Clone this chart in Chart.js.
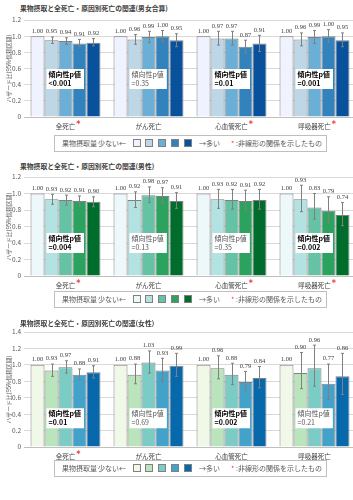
<!DOCTYPE html>
<html lang="ja">
<head>
<meta charset="utf-8">
<script src="https://cdn.jsdelivr.net/npm/chart.js@4.4.1/dist/chart.umd.min.js"></script>
<style>
  body { margin: 0; width: 353px; height: 500px; overflow: hidden; background: #fff; position: relative;
         font-family: 'Noto Sans CJK JP', sans-serif; }
  .ttl { position: absolute; left: 20px; font-size: 6.8px; line-height: 10px; font-weight: bold; color: #404040; white-space: nowrap; }
  .cv { position: absolute; left: 0; }
  .lg { position: absolute; left: 54px; width: 273px; height: 17px; border: 1px solid #bfbfbf; box-sizing: border-box;
        font-size: 7px; color: #595959; white-space: nowrap; }
  .lg span { position: absolute; top: 0; line-height: 15px; }
  .lg i { position: absolute; top: 3px; width: 8px; height: 8px; border: 1px solid #808080; box-sizing: border-box; }
</style>
</head>
<body>
<script>
Chart.defaults.font.family = "'Noto Sans CJK JP', sans-serif";

const categories = ['全死亡', 'がん死亡', '心血管死亡', '呼吸器死亡'];
const trendLabel = '傾向性p値';
const yTitle = 'ハザード比(95%信頼区間)';
const legendTexts = ['果物摂取量', '少ない←', '→多い', ':非線形の関係を示したもの'];

// 男女合算  (rows = categories, columns = intake quintiles)
const bothHR = [
  [1.00, 0.95, 0.94, 0.91, 0.92],
  [1.00, 0.96, 0.99, 1.00, 0.95],
  [1.00, 0.97, 0.97, 0.87, 0.91],
  [1.00, 0.96, 0.99, 1.00, 0.95]
];
const bothLo = [
  [null, 0.91, 0.90, 0.87, 0.88],
  [null, 0.90, 0.92, 0.93, 0.87],
  [null, 0.89, 0.89, 0.79, 0.81],
  [null, 0.88, 0.91, 0.92, 0.87]
];
const bothHi = [
  [null, 0.99, 0.98, 0.96, 0.97],
  [null, 1.02, 1.06, 1.07, 1.03],
  [null, 1.06, 1.06, 0.95, 1.01],
  [null, 1.04, 1.07, 1.08, 1.04]
];
const bothP = ['<0.001', '=0.35', '=0.01', '=0.001'];
const bothSig = [true, false, true, true];
const bothStar = [true, false, true, true];
const bothColors = ['#eff3ff', '#bdd7e7', '#6baed6', '#3182bd', '#08519c'];

// 男性
const menHR = [
  [1.00, 0.93, 0.92, 0.91, 0.90],
  [1.00, 0.92, 0.98, 0.97, 0.91],
  [1.00, 0.93, 0.92, 0.91, 0.92],
  [1.00, 0.93, 0.83, 0.79, 0.74]
];
const menLo = [
  [null, 0.87, 0.86, 0.85, 0.84],
  [null, 0.83, 0.89, 0.88, 0.82],
  [null, 0.82, 0.81, 0.80, 0.81],
  [null, 0.78, 0.69, 0.65, 0.61]
];
const menHi = [
  [null, 0.99, 0.98, 0.97, 0.96],
  [null, 1.02, 1.08, 1.07, 1.01],
  [null, 1.05, 1.05, 1.04, 1.05],
  [null, 1.10, 1.00, 0.96, 0.89]
];
const menP = ['=0.004', '=0.13', '=0.35', '=0.002'];
const menSig = [true, false, false, true];
const menStar = [true, false, true, true];
const menColors = ['#edf8fb', '#b2e2e2', '#66c2a4', '#2ca25f', '#006d2c'];

// 女性
const womenHR = [
  [1.00, 0.93, 0.97, 0.88, 0.91],
  [1.00, 0.88, 1.03, 0.93, 0.99],
  [1.00, 0.96, 0.88, 0.79, 0.84],
  [1.00, 0.90, 0.96, 0.77, 0.86]
];
const womenLo = [
  [null, 0.86, 0.90, 0.82, 0.84],
  [null, 0.77, 0.90, 0.80, 0.86],
  [null, 0.83, 0.76, 0.68, 0.72],
  [null, 0.71, 0.74, 0.58, 0.64]
];
const womenHi = [
  [null, 1.01, 1.05, 0.95, 0.99],
  [null, 1.01, 1.17, 1.08, 1.14],
  [null, 1.11, 1.02, 0.92, 0.98],
  [null, 1.15, 1.24, 1.01, 1.14]
];
const womenP = ['=0.01', '=0.69', '=0.002', '=0.21'];
const womenSig = [true, false, true, false];
const womenStar = [true, false, false, false];
const womenColors = ['#f0f9e8', '#bae4bc', '#7bccc4', '#43a2ca', '#0868ac'];

const panels = [
  { title: '果物摂取と全死亡・原因別死亡の関連(男女合算)', hr: bothHR, lo: bothLo, hi: bothHi, p: bothP, sig: bothSig,
    star: bothStar, colors: bothColors, yMax: 1.2, top: 12, h: 123, titleY: 3, legendY: 135, boxAt: 0.47 },
  { title: '果物摂取と全死亡・原因別死亡の関連(男性)', hr: menHR, lo: menLo, hi: menHi, p: menP, sig: menSig,
    star: menStar, colors: menColors, yMax: 1.2, top: 169, h: 125, titleY: 161, legendY: 291, boxAt: 0.40 },
  { title: '果物摂取と全死亡・原因別死亡の関連(女性)', hr: womenHR, lo: womenLo, hi: womenHi, p: womenP, sig: womenSig,
    star: womenStar, colors: womenColors, yMax: 1.4, top: 324, h: 141, titleY: 318, legendY: 460, boxAt: 0.35 }
];

function makeExtras(cfg) {
  return {
    id: 'extras',
    afterDraw(chart) {
      const ctx = chart.ctx, xs = chart.scales.x, ys = chart.scales.y;
      ctx.save();
      // error bars + value labels
      chart.data.datasets.forEach((ds, q) => {
        chart.getDatasetMeta(q).data.forEach((bar, c) => {
          let top = bar.y;
          const l = cfg.lo[c][q], h = cfg.hi[c][q];
          if (l !== null) {
            const yl = ys.getPixelForValue(l), yh = ys.getPixelForValue(h);
            const x = Math.round(bar.x) + 0.5;
            ctx.strokeStyle = '#808080';
            ctx.lineWidth = 1;
            ctx.beginPath();
            ctx.moveTo(x, yl); ctx.lineTo(x, yh);
            ctx.moveTo(x - 1.5, yl); ctx.lineTo(x + 1.5, yl);
            ctx.moveTo(x - 1.5, yh); ctx.lineTo(x + 1.5, yh);
            ctx.stroke();
            top = Math.min(top, yh);
          }
          ctx.fillStyle = '#404040';
          ctx.font = "6.5px 'Liberation Serif', serif";
          ctx.textAlign = 'center';
          ctx.textBaseline = 'bottom';
          ctx.fillText(ds.data[c].toFixed(2), bar.x, top - 2);
        });
      });
      // trend p boxes, category labels, asterisks
      categories.forEach((name, c) => {
        const cx = xs.getPixelForValue(c);
        const cy = ys.getPixelForValue(cfg.boxAt);
        ctx.font = (cfg.sig[c] ? 'bold ' : '') + "7px 'Noto Sans CJK JP', sans-serif";
        const w = Math.max(ctx.measureText(trendLabel).width, ctx.measureText(cfg.p[c]).width) + 5;
        const bx = cx - 19, by = cy - 10;
        ctx.fillStyle = '#fff';
        ctx.fillRect(bx, by, w, 20);
        ctx.fillStyle = cfg.sig[c] ? '#000' : '#595959';
        ctx.textAlign = 'left';
        ctx.textBaseline = 'middle';
        ctx.fillText(trendLabel, bx + 2, cy - 4.5);
        ctx.fillText(cfg.p[c], bx + 2, cy + 4.5);

        const ly = xs.top + 10;
        ctx.font = "6.5px 'Noto Sans CJK JP', sans-serif";
        ctx.fillStyle = '#404040';
        ctx.textAlign = 'center';
        ctx.fillText(name, cx, ly);
        if (cfg.star[c]) {
          const tw = ctx.measureText(name).width;
          ctx.fillStyle = '#e8413c';
          ctx.font = "bold 8px 'DejaVu Sans', sans-serif";
          ctx.textAlign = 'left';
          ctx.fillText('*', cx + tw / 2 + 1, ly - 2);
        }
      });
      ctx.restore();
    }
  };
}

function buildLegend(cfg) {
  const box = document.createElement('div');
  box.className = 'lg';
  box.style.top = cfg.legendY + 'px';
  const add = (txt, left, color) => {
    const s = document.createElement('span');
    s.textContent = txt;
    s.style.left = left + 'px';
    if (color) s.style.color = color;
    box.appendChild(s);
  };
  add(legendTexts[0], 7);
  add(legendTexts[1], 43);
  [78, 90, 103, 116, 129].forEach((left, q) => {
    const sw = document.createElement('i');
    sw.style.left = left + 'px';
    sw.style.background = cfg.colors[q];
    box.appendChild(sw);
  });
  add(legendTexts[2], 144);
  add('*', 176, '#e8413c');
  add(legendTexts[3], 181);
  document.body.appendChild(box);
}

panels.forEach((cfg, k) => {
  const t = document.createElement('div');
  t.className = 'ttl';
  t.style.top = cfg.titleY + 'px';
  t.textContent = cfg.title;
  document.body.appendChild(t);

  const cv = document.createElement('canvas');
  cv.className = 'cv';
  cv.width = 358;
  cv.height = cfg.h;
  cv.style.top = cfg.top + 'px';
  document.body.appendChild(cv);

  buildLegend(cfg);

  new Chart(cv, {
    type: 'bar',
    data: {
      labels: categories,
      datasets: cfg.colors.map((col, q) => ({
        data: cfg.hr.map(row => row[q]),
        backgroundColor: col,
        borderColor: '#808080',
        borderWidth: 1,
        categoryPercentage: 0.843,
        barPercentage: 1
      }))
    },
    options: {
      responsive: false,
      animation: false,
      events: [],
      layout: { padding: { top: 8, left: 0, right: 2, bottom: 0 } },
      plugins: { legend: { display: false }, tooltip: { enabled: false } },
      scales: {
        x: {
          grid: { display: false, drawTicks: false },
          border: { color: '#bfbfbf' },
          ticks: { display: false },
          afterFit: s => { s.height = 18; }
        },
        y: {
          min: 0,
          max: cfg.yMax,
          ticks: { stepSize: 0.2, color: '#595959', font: { size: 6.5 }, padding: 3 },
          grid: { color: '#d9d9d9', drawTicks: false },
          border: { display: false },
          title: { display: true, text: yTitle, color: '#595959', font: { size: 5.8 }, padding: { top: 5, bottom: 0 } },
          afterFit: s => { s.width = 24; }
        }
      }
    },
    plugins: [makeExtras(cfg)]
  });
});
</script>
</body>
</html>
